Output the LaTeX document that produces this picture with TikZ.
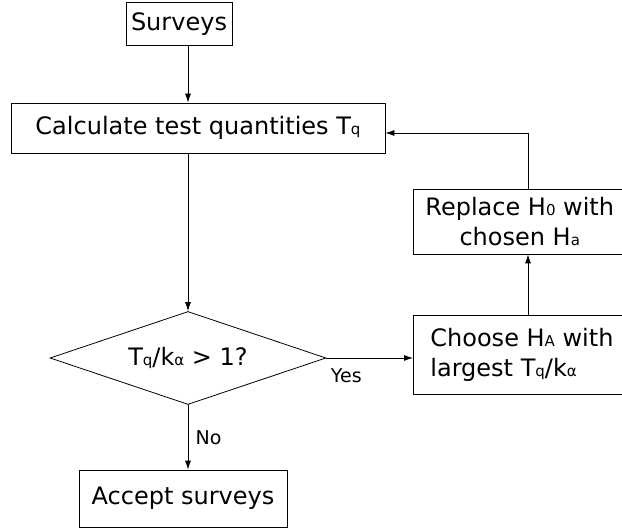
\documentclass[tikz,border=0pt]{standalone}
\usepackage{fontspec}
\setmainfont{DejaVu Sans}
\usetikzlibrary{shapes.geometric,arrows.meta}
\newcommand{\lo}[1]{{\fontsize{15}{15}\selectfont #1}}
\tikzset{
  box/.style={draw, line width=0.8pt, inner sep=0pt},
  flow/.style={-{Latex[length=9pt,width=6pt]}, line width=0.8pt},
  lbl/.style={font=\fontsize{19}{22}\selectfont}
}
\begin{document}
\begin{tikzpicture}[x=1pt,y=-1pt, every node/.style={font=\fontsize{24}{30}\selectfont}]
            \useasboundingbox (0,0) rectangle (622,532);
            \node [box, minimum width=106pt, minimum height=43pt] (surveys) at (179,24) {Surveys};
            \node [box, minimum width=374pt, minimum height=50pt] (calc) at (198,128) {Calculate test quantities T\lo{q}};
            \node [draw, diamond, line width=0.8pt, inner sep=0pt, aspect=3, minimum width=276pt, minimum height=93pt] (dia) at (188,358) {T\lo{q}/k\lo{α} > 1?};
            \node [box, anchor=west, align=left, inner xsep=17pt, minimum height=79pt] (choose) at (413,354.5) {Choose H\lo{A} with\\largest T\lo{q}/k\lo{α}};
            \node [box, anchor=west, align=center, inner xsep=12pt, minimum height=65pt] (replace) at (413,221.5) {Replace H\lo{0} with\\chosen H\lo{a}};
            \node [box, minimum width=208pt, minimum height=57pt] (accept) at (183,498.5) {Accept surveys};
            \coordinate (up) at (528,133);
            \draw [flow] (surveys.south -| dia.north) -- (calc.north -| dia.north);
            \draw [flow] (calc.south -| dia.north) -- (dia.north);
            \draw [flow] (dia.south) -- node [lbl, right=4pt] {No} (accept.north -| dia.south);
            \draw [flow] (dia.east) -- node [lbl, pos=0.23, below=7pt] {Yes} (dia.east -| choose.west);
            \draw [flow] (choose.north -| up) -- (replace.south -| up);
            \draw [flow] (replace.north -| up) -- (up) -- (calc.east |- up);
        \end{tikzpicture}
\end{document}
